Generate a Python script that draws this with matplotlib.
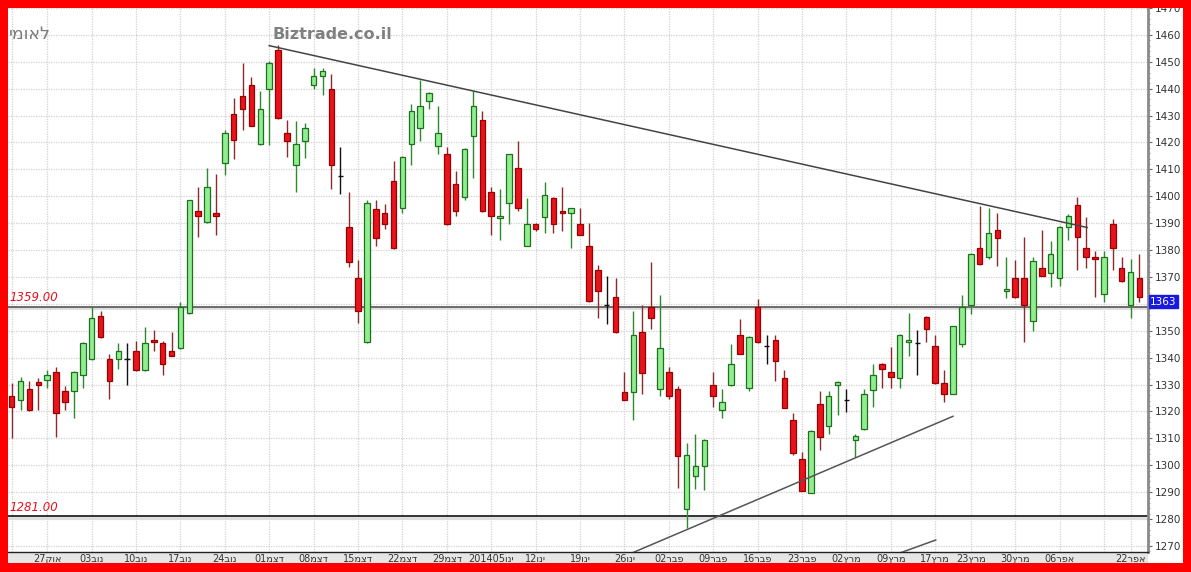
import matplotlib
matplotlib.use('Agg')
import matplotlib.pyplot as plt
from matplotlib.patches import Rectangle
from matplotlib.ticker import MultipleLocator
import matplotlib.transforms as mtransforms

# ---------------- data ----------------
opens = [1325.9, 1324.4, 1328.4, 1330.8, 1331.8, 1334.6, 1327.6, 1327.6, 1333.4, 1339.6,
         1355.5, 1339.6, 1339.6, 1339.6, 1342.6, 1335.5, 1346.7, 1345.5, 1342.6, 1343.6,
         1356.5, 1394.6, 1390.5, 1393.7, 1412.5, 1430.6, 1437.4, 1441.5, 1419.5, 1439.7,
         1454.5, 1423.6, 1411.5, 1420.5, 1441.5, 1444.6, 1439.7, 1407.5, 1388.7, 1369.6,
         1345.7, 1395.4, 1393.7, 1405.7, 1395.8, 1419.5, 1425.4, 1435.3, 1418.7, 1415.6,
         1404.4, 1399.8, 1422.4, 1428.5, 1401.6, 1391.8, 1397.6, 1410.6, 1381.6, 1389.6,
         1392.3, 1399.5, 1394.5, 1393.7, 1389.6, 1381.6, 1372.6, 1359.6, 1362.4, 1327.4,
         1327.4, 1349.4, 1358.7, 1328.4, 1334.6, 1328.4, 1283.6, 1295.9, 1299.8, 1329.7,
         1320.4, 1329.7, 1348.6, 1328.8, 1358.7, 1344.5, 1346.6, 1332.5, 1316.7, 1302.5,
         1289.8, 1322.6, 1314.5, 1329.7, 1324.3, 1309.5, 1313.6, 1327.8, 1337.7, 1334.6,
         1332.5, 1345.7, 1345.5, 1355.0, 1344.5, 1330.7, 1326.6, 1344.9, 1359.7, 1380.6,
         1377.5, 1387.4, 1364.7, 1369.6, 1369.6, 1353.8, 1373.5, 1371.3, 1369.8, 1388.6,
         1396.8, 1380.7, 1377.5, 1363.7, 1389.6, 1373.5, 1359.7, 1369.6]
highs = [1330.4, 1332.8, 1331.5, 1332.5, 1335.5, 1336.5, 1329.3, 1335.0, 1345.8, 1359.0,
         1357.5, 1341.4, 1345.4, 1345.4, 1346.1, 1351.3, 1350.3, 1346.1, 1349.4, 1360.6,
         1398.8, 1403.6, 1410.6, 1408.4, 1424.5, 1436.6, 1449.6, 1444.2, 1439.3, 1450.4,
         1456.1, 1428.5, 1427.9, 1427.3, 1447.7, 1447.7, 1445.5, 1418.3, 1401.7, 1376.3,
         1398.5, 1398.5, 1397.3, 1413.3, 1414.9, 1434.4, 1443.4, 1438.7, 1433.5, 1418.3,
         1409.4, 1418.0, 1439.0, 1431.6, 1403.5, 1402.6, 1415.9, 1420.5, 1399.5, 1389.9,
         1405.4, 1399.8, 1403.5, 1395.8, 1395.5, 1390.2, 1374.5, 1370.5, 1369.8, 1334.6,
         1357.5, 1359.6, 1375.4, 1363.4, 1336.5, 1329.3, 1308.3, 1311.5, 1309.8, 1334.6,
         1328.4, 1344.9, 1354.4, 1348.0, 1361.8, 1348.6, 1348.6, 1335.5, 1319.4, 1305.0,
         1313.0, 1327.6, 1327.6, 1331.5, 1328.4, 1311.7, 1328.4, 1337.5, 1338.0, 1343.9,
         1348.9, 1356.6, 1350.3, 1355.6, 1348.6, 1335.5, 1351.9, 1363.4, 1378.8, 1396.4,
         1395.5, 1393.6, 1377.5, 1376.3, 1384.7, 1377.5, 1387.4, 1383.2, 1388.9, 1393.3,
         1399.7, 1392.3, 1379.5, 1379.5, 1391.5, 1377.5, 1376.6, 1378.5]
lows = [1310.0, 1320.6, 1320.0, 1320.6, 1328.8, 1310.5, 1320.6, 1317.7, 1328.8, 1339.3,
        1347.3, 1324.7, 1335.8, 1329.7, 1335.0, 1335.2, 1342.6, 1333.7, 1340.5, 1343.3,
        1356.2, 1384.7, 1390.2, 1385.5, 1407.9, 1413.7, 1424.5, 1426.0, 1419.2, 1419.0,
        1428.9, 1414.6, 1401.6, 1414.3, 1439.7, 1437.6, 1402.6, 1400.7, 1373.8, 1352.8,
        1345.5, 1381.6, 1387.8, 1380.5, 1393.6, 1411.6, 1420.5, 1432.6, 1415.6, 1389.4,
        1392.7, 1398.5, 1406.7, 1394.3, 1385.7, 1383.7, 1389.6, 1394.5, 1381.4, 1387.2,
        1386.5, 1386.5, 1387.2, 1380.7, 1385.5, 1360.6, 1354.8, 1352.5, 1349.2, 1324.2,
        1316.7, 1326.6, 1350.7, 1325.6, 1324.7, 1291.7, 1276.8, 1291.0, 1290.7, 1321.6,
        1317.7, 1329.4, 1341.2, 1327.6, 1345.5, 1337.7, 1331.5, 1321.2, 1303.7, 1290.3,
        1289.6, 1305.6, 1311.7, 1318.5, 1319.8, 1303.1, 1313.0, 1321.6, 1328.8, 1328.8,
        1328.8, 1340.8, 1333.7, 1345.7, 1330.3, 1323.5, 1326.4, 1343.9, 1356.3, 1374.6,
        1376.6, 1374.2, 1362.2, 1362.2, 1345.7, 1349.8, 1370.3, 1366.4, 1366.7, 1383.7,
        1372.6, 1373.3, 1362.7, 1360.6, 1372.6, 1368.0, 1354.8, 1360.6]
closes = [1321.6, 1331.5, 1320.4, 1329.8, 1333.7, 1319.4, 1323.5, 1334.7, 1345.5, 1354.8,
          1347.6, 1331.5, 1342.6, 1339.6, 1335.5, 1345.5, 1345.7, 1337.5, 1340.8, 1358.7,
          1398.5, 1392.7, 1403.6, 1392.7, 1423.6, 1420.8, 1432.5, 1426.3, 1432.5, 1449.6,
          1429.2, 1420.5, 1419.5, 1425.4, 1444.6, 1446.5, 1411.5, 1407.5, 1375.6, 1357.5,
          1397.6, 1384.4, 1389.6, 1380.7, 1414.6, 1431.6, 1433.5, 1438.4, 1423.6, 1389.6,
          1394.5, 1417.7, 1433.5, 1394.5, 1392.7, 1392.7, 1415.6, 1395.5, 1389.6, 1387.8,
          1400.4, 1389.6, 1393.7, 1395.5, 1385.7, 1361.2, 1364.6, 1359.6, 1349.4, 1324.4,
          1348.4, 1334.4, 1354.8, 1343.6, 1325.6, 1303.4, 1303.7, 1299.8, 1309.5, 1325.6,
          1323.5, 1337.7, 1341.4, 1347.8, 1345.7, 1344.5, 1338.7, 1321.4, 1304.6, 1290.5,
          1312.7, 1310.5, 1325.6, 1330.9, 1324.3, 1310.8, 1326.6, 1333.7, 1335.9, 1332.8,
          1348.6, 1346.6, 1345.5, 1350.7, 1330.5, 1326.6, 1351.6, 1358.7, 1378.5, 1374.8,
          1386.5, 1384.4, 1365.5, 1362.4, 1359.7, 1375.8, 1370.5, 1378.5, 1388.6, 1392.7,
          1384.7, 1377.5, 1376.6, 1377.5, 1380.7, 1368.6, 1371.7, 1362.6]

# date labels (visual order of the Hebrew as drawn) at candle indices
date_idx = [0, 4, 9, 14, 19, 24, 29, 34, 39, 44, 49, 54, 59, 64, 69, 74, 79, 84, 89,
            94, 99, 104, 108, 113, 118, 123, 126]
date_labels = ["", "27קוא", "03בונ", "10בונ", "17בונ", "24בונ", "01מצד", "08מצד", "15מצד",
               "22מצד", "29מצד", "201405וני", "12וני", "19וני", "26וני", "02רבפ", "09רבפ",
               "16רבפ", "23רבפ", "02ץרמ", "09ץרמ", "17ץרמ", "23ץרמ", "30ץרמ", "06רפא", "",
               "22רפא"]

y_ticks = list(range(1270, 1471, 10))
hidden_y_label = 1360  # covered by the last-price box in the reference

# horizontal levels
levels = [1359.0, 1281.0]
level_labels = ["1359.00", "1281.00"]
level_colors = ["#555555", "#111111"]

# trend lines (index, price)
resist_x = [29.0, 121.1]
resist_y = [1456.0, 1388.4]
support_x = [70.0, 106.0]
support_y = [1267.6, 1318.2]
support2_x = [100.2, 104.05]
support2_y = [1267.6, 1272.2]

last_label = "1363"

# ---------------- figure ----------------
W, H = 1191, 572
fig = plt.figure(figsize=(W / 100, H / 100), dpi=100)
fig.patch.set_facecolor("white")

ax_l, ax_r, ax_b, ax_t = 8, 1148, 552, 8
ax = fig.add_axes([ax_l / W, (H - ax_b) / H, (ax_r - ax_l) / W, (ax_b - ax_t) / H])
ax.set_facecolor("white")

# label band below axis
fig.patches.append(Rectangle((ax_l / W, (H - 563) / H), (ax_r - ax_l) / W, (563 - ax_b) / H,
                             transform=fig.transFigure, facecolor="#e6e6e6",
                             edgecolor="none", zorder=-1))

n = len(opens)
xs = list(range(n))
bw = 0.62
for i in xs:
    o, h, l, c = opens[i], highs[i], lows[i], closes[i]
    if c > o:
        wick, face, edge = "#2b8a2b", "#90ee90", "#1e701e"
    elif c < o:
        wick, face, edge = "#8b2a2a", "#e8141c", "#9a0000"
    else:
        wick, face, edge = "#111111", None, None
    ax.vlines(i, l, h, color=wick, linewidth=1.0, zorder=3)
    if face is None:
        ax.hlines(o, i - bw / 2, i + bw / 2, color="#111111", linewidth=1.0, zorder=4)
    else:
        ax.bar(i, abs(c - o), width=bw, bottom=min(o, c), color=face, edgecolor=edge,
               linewidth=0.9, zorder=4)

# trend lines
ax.plot(resist_x, resist_y, color="#444444", linewidth=1.1, zorder=5)
ax.plot(support_x, support_y, color="#555555", linewidth=1.1, zorder=5)
ax.plot(support2_x, support2_y, color="#555555", linewidth=1.1, zorder=5)

# horizontal levels
shadow = ax.get_yaxis_transform() + mtransforms.ScaledTranslation(0, -1.5 / 100, fig.dpi_scale_trans)
for lv, lab, col in zip(levels, level_labels, level_colors):
    ax.plot([0, 1], [lv, lv], color="#dddddd", linewidth=2.0, zorder=2, transform=shadow)
    ax.axhline(lv, color=col, linewidth=1.2, zorder=2)
    ax.annotate(lab, xy=(0.0, lv), xycoords=("axes fraction", "data"), xytext=(1, 2),
                textcoords="offset points", ha="left", va="bottom", color="#e8101a",
                fontsize=8.5, fontstyle="italic")

ax.set_xlim(-0.42, 127.96)
ax.set_ylim(1267.75, 1469.45)

ax.set_xticks(date_idx)
ax.set_xticklabels(date_labels, fontsize=7, color="#333333", family="DejaVu Sans")
ax.tick_params(axis="x", length=0, pad=1.5)

ax.yaxis.tick_right()
ax.set_yticks(y_ticks)
ax.set_yticklabels(["" if v == hidden_y_label else str(v) for v in y_ticks],
                   fontsize=7.5, color="#333333")
ax.yaxis.set_minor_locator(MultipleLocator(2))
ax.tick_params(axis="y", which="major", length=3, width=0.8, color="#666666", pad=2)
ax.tick_params(axis="y", which="minor", length=1.5, width=0.6, color="#888888")

ax.grid(True, which="major", color="#d2d2d2", linestyle=(0, (1, 1)), linewidth=0.9, zorder=0)
ax.set_axisbelow(True)

for s in ["top", "left"]:
    ax.spines[s].set_visible(False)
ax.spines["right"].set_color("#8a8a8a")
ax.spines["right"].set_linewidth(2.0)
ax.spines["bottom"].set_color("#222222")
ax.spines["bottom"].set_linewidth(1.0)

# last price label
ax.annotate(last_label, xy=(1.0, closes[-1]), xycoords=("axes fraction", "data"),
            xytext=(1.5, 0), textcoords="offset points", ha="left", va="top",
            color="white", fontsize=7.5,
            bbox=dict(boxstyle="square,pad=0.15", facecolor="#1a1adf", edgecolor="#1a1adf"),
            annotation_clip=False, zorder=6)

# top texts
fig.text(273 / W, (H - 34.5) / H, "Biztrade.co.il", fontsize=11.5, fontweight="bold",
         color="#808080", ha="left", va="center")
fig.text(9 / W, (H - 34) / H, "ימואל", fontsize=12.5, color="#7a7a7a",
         ha="left", va="center", family="DejaVu Sans")

# red frame
red = "#ff0000"
for (x0, y0, w, h) in [(0, 0, W, 9), (0, H - 8, W, 8), (0, 0, 8, H), (1183, 0, W - 1183, H)]:
    fig.patches.append(Rectangle((x0 / W, y0 / H), w / W, h / H, transform=fig.transFigure,
                                 facecolor=red, edgecolor="none", zorder=20))

fig.savefig("out.png", dpi=100, facecolor=fig.get_facecolor())
